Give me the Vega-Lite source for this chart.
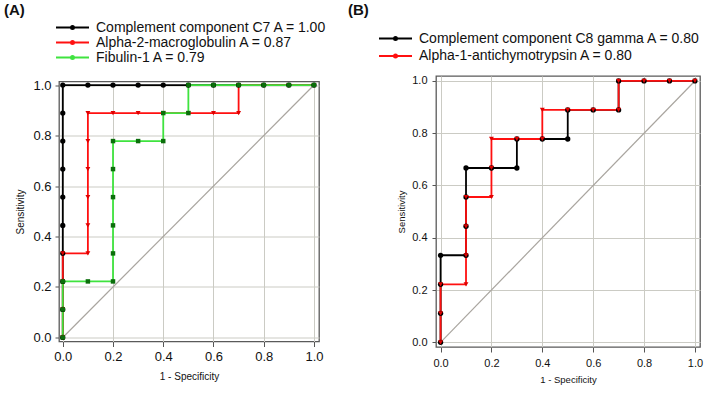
{
  "$schema": "https://vega.github.io/schema/vega-lite/v6.json",
  "autosize": {"type": "none"},
  "padding": {"left": 59, "top": 76, "right": 661, "bottom": 327},
  "background": "white",
  "config": {
    "font": "Liberation Sans",
    "view": {"stroke": "#5a5a5a", "strokeWidth": 1.3},
    "axis": {"domain": false, "grid": true, "gridColor": "#cbcbc4", "gridWidth": 1, "tickColor": "#555555", "labelColor": "#111111", "titleColor": "#111111", "titleFontWeight": "normal", "labelFont": "Liberation Sans", "titleFont": "Liberation Sans", "labelFlush": false, "format": ".1f", "values": [0, 0.2, 0.4, 0.6, 0.8, 1]},
    "legend": {"labelFont": "Liberation Sans", "labelColor": "#111111", "labelLimit": 400, "title": null, "orient": "none", "symbolType": "M-4.125,0H4.125M-0.4,0A0.4,0.4,0,1,1,0.4,0A0.4,0.4,0,1,1,-0.4,0", "symbolSize": 64, "symbolStrokeWidth": 1.8, "symbolFillColor": "transparent", "labelFontSize": 14, "labelOffset": 16.5}
  },
  "datasets": {
    "diag": [{"x": 0, "y": 0}, {"x": 1, "y": 1}],
    "rocA": [
      {"series": "Complement component C7 A = 1.00", "i": 1, "x": 0, "y": 0},
      {"series": "Complement component C7 A = 1.00", "i": 2, "x": 0, "y": 0.111},
      {"series": "Complement component C7 A = 1.00", "i": 3, "x": 0, "y": 0.222},
      {"series": "Complement component C7 A = 1.00", "i": 4, "x": 0, "y": 0.333},
      {"series": "Complement component C7 A = 1.00", "i": 5, "x": 0, "y": 0.444},
      {"series": "Complement component C7 A = 1.00", "i": 6, "x": 0, "y": 0.556},
      {"series": "Complement component C7 A = 1.00", "i": 7, "x": 0, "y": 0.667},
      {"series": "Complement component C7 A = 1.00", "i": 8, "x": 0, "y": 0.778},
      {"series": "Complement component C7 A = 1.00", "i": 9, "x": 0, "y": 0.889},
      {"series": "Complement component C7 A = 1.00", "i": 10, "x": 0, "y": 1},
      {"series": "Complement component C7 A = 1.00", "i": 11, "x": 0.1, "y": 1},
      {"series": "Complement component C7 A = 1.00", "i": 12, "x": 0.2, "y": 1},
      {"series": "Complement component C7 A = 1.00", "i": 13, "x": 0.3, "y": 1},
      {"series": "Complement component C7 A = 1.00", "i": 14, "x": 0.4, "y": 1},
      {"series": "Complement component C7 A = 1.00", "i": 15, "x": 0.5, "y": 1},
      {"series": "Complement component C7 A = 1.00", "i": 16, "x": 0.6, "y": 1},
      {"series": "Complement component C7 A = 1.00", "i": 17, "x": 0.7, "y": 1},
      {"series": "Complement component C7 A = 1.00", "i": 18, "x": 0.8, "y": 1},
      {"series": "Complement component C7 A = 1.00", "i": 19, "x": 0.9, "y": 1},
      {"series": "Complement component C7 A = 1.00", "i": 20, "x": 1, "y": 1},
      {"series": "Alpha-2-macroglobulin A = 0.87", "i": 1, "x": 0, "y": 0},
      {"series": "Alpha-2-macroglobulin A = 0.87", "i": 2, "x": 0, "y": 0.111},
      {"series": "Alpha-2-macroglobulin A = 0.87", "i": 3, "x": 0, "y": 0.222},
      {"series": "Alpha-2-macroglobulin A = 0.87", "i": 4, "x": 0, "y": 0.333},
      {"series": "Alpha-2-macroglobulin A = 0.87", "i": 5, "x": 0.1, "y": 0.333},
      {"series": "Alpha-2-macroglobulin A = 0.87", "i": 6, "x": 0.1, "y": 0.444},
      {"series": "Alpha-2-macroglobulin A = 0.87", "i": 7, "x": 0.1, "y": 0.556},
      {"series": "Alpha-2-macroglobulin A = 0.87", "i": 8, "x": 0.1, "y": 0.667},
      {"series": "Alpha-2-macroglobulin A = 0.87", "i": 9, "x": 0.1, "y": 0.778},
      {"series": "Alpha-2-macroglobulin A = 0.87", "i": 10, "x": 0.1, "y": 0.889},
      {"series": "Alpha-2-macroglobulin A = 0.87", "i": 11, "x": 0.2, "y": 0.889},
      {"series": "Alpha-2-macroglobulin A = 0.87", "i": 12, "x": 0.3, "y": 0.889},
      {"series": "Alpha-2-macroglobulin A = 0.87", "i": 13, "x": 0.4, "y": 0.889},
      {"series": "Alpha-2-macroglobulin A = 0.87", "i": 14, "x": 0.5, "y": 0.889},
      {"series": "Alpha-2-macroglobulin A = 0.87", "i": 15, "x": 0.6, "y": 0.889},
      {"series": "Alpha-2-macroglobulin A = 0.87", "i": 16, "x": 0.7, "y": 0.889},
      {"series": "Alpha-2-macroglobulin A = 0.87", "i": 17, "x": 0.7, "y": 1},
      {"series": "Alpha-2-macroglobulin A = 0.87", "i": 18, "x": 0.8, "y": 1},
      {"series": "Alpha-2-macroglobulin A = 0.87", "i": 19, "x": 0.9, "y": 1},
      {"series": "Alpha-2-macroglobulin A = 0.87", "i": 20, "x": 1, "y": 1},
      {"series": "Fibulin-1 A = 0.79", "i": 1, "x": 0, "y": 0},
      {"series": "Fibulin-1 A = 0.79", "i": 2, "x": 0, "y": 0.111},
      {"series": "Fibulin-1 A = 0.79", "i": 3, "x": 0, "y": 0.222},
      {"series": "Fibulin-1 A = 0.79", "i": 4, "x": 0.1, "y": 0.222},
      {"series": "Fibulin-1 A = 0.79", "i": 5, "x": 0.2, "y": 0.222},
      {"series": "Fibulin-1 A = 0.79", "i": 6, "x": 0.2, "y": 0.333},
      {"series": "Fibulin-1 A = 0.79", "i": 7, "x": 0.2, "y": 0.444},
      {"series": "Fibulin-1 A = 0.79", "i": 8, "x": 0.2, "y": 0.556},
      {"series": "Fibulin-1 A = 0.79", "i": 9, "x": 0.2, "y": 0.667},
      {"series": "Fibulin-1 A = 0.79", "i": 10, "x": 0.2, "y": 0.778},
      {"series": "Fibulin-1 A = 0.79", "i": 11, "x": 0.3, "y": 0.778},
      {"series": "Fibulin-1 A = 0.79", "i": 12, "x": 0.4, "y": 0.778},
      {"series": "Fibulin-1 A = 0.79", "i": 13, "x": 0.4, "y": 0.889},
      {"series": "Fibulin-1 A = 0.79", "i": 14, "x": 0.5, "y": 0.889},
      {"series": "Fibulin-1 A = 0.79", "i": 15, "x": 0.5, "y": 1},
      {"series": "Fibulin-1 A = 0.79", "i": 16, "x": 0.6, "y": 1},
      {"series": "Fibulin-1 A = 0.79", "i": 17, "x": 0.7, "y": 1},
      {"series": "Fibulin-1 A = 0.79", "i": 18, "x": 0.8, "y": 1},
      {"series": "Fibulin-1 A = 0.79", "i": 19, "x": 0.9, "y": 1},
      {"series": "Fibulin-1 A = 0.79", "i": 20, "x": 1, "y": 1}
    ],
    "rocB": [
      {"series": "Complement component C8 gamma A = 0.80", "i": 1, "x": 0, "y": 0},
      {"series": "Complement component C8 gamma A = 0.80", "i": 2, "x": 0, "y": 0.111},
      {"series": "Complement component C8 gamma A = 0.80", "i": 3, "x": 0, "y": 0.222},
      {"series": "Complement component C8 gamma A = 0.80", "i": 4, "x": 0, "y": 0.333},
      {"series": "Complement component C8 gamma A = 0.80", "i": 5, "x": 0.1, "y": 0.333},
      {"series": "Complement component C8 gamma A = 0.80", "i": 6, "x": 0.1, "y": 0.444},
      {"series": "Complement component C8 gamma A = 0.80", "i": 7, "x": 0.1, "y": 0.556},
      {"series": "Complement component C8 gamma A = 0.80", "i": 8, "x": 0.1, "y": 0.667},
      {"series": "Complement component C8 gamma A = 0.80", "i": 9, "x": 0.2, "y": 0.667},
      {"series": "Complement component C8 gamma A = 0.80", "i": 10, "x": 0.3, "y": 0.667},
      {"series": "Complement component C8 gamma A = 0.80", "i": 11, "x": 0.3, "y": 0.778},
      {"series": "Complement component C8 gamma A = 0.80", "i": 12, "x": 0.4, "y": 0.778},
      {"series": "Complement component C8 gamma A = 0.80", "i": 13, "x": 0.5, "y": 0.778},
      {"series": "Complement component C8 gamma A = 0.80", "i": 14, "x": 0.5, "y": 0.889},
      {"series": "Complement component C8 gamma A = 0.80", "i": 15, "x": 0.6, "y": 0.889},
      {"series": "Complement component C8 gamma A = 0.80", "i": 16, "x": 0.7, "y": 0.889},
      {"series": "Complement component C8 gamma A = 0.80", "i": 17, "x": 0.7, "y": 1},
      {"series": "Complement component C8 gamma A = 0.80", "i": 18, "x": 0.8, "y": 1},
      {"series": "Complement component C8 gamma A = 0.80", "i": 19, "x": 0.9, "y": 1},
      {"series": "Complement component C8 gamma A = 0.80", "i": 20, "x": 1, "y": 1},
      {"series": "Alpha-1-antichymotrypsin A = 0.80", "i": 1, "x": 0, "y": 0},
      {"series": "Alpha-1-antichymotrypsin A = 0.80", "i": 2, "x": 0, "y": 0.111},
      {"series": "Alpha-1-antichymotrypsin A = 0.80", "i": 3, "x": 0, "y": 0.222},
      {"series": "Alpha-1-antichymotrypsin A = 0.80", "i": 4, "x": 0.1, "y": 0.222},
      {"series": "Alpha-1-antichymotrypsin A = 0.80", "i": 5, "x": 0.1, "y": 0.333},
      {"series": "Alpha-1-antichymotrypsin A = 0.80", "i": 6, "x": 0.1, "y": 0.444},
      {"series": "Alpha-1-antichymotrypsin A = 0.80", "i": 7, "x": 0.1, "y": 0.556},
      {"series": "Alpha-1-antichymotrypsin A = 0.80", "i": 8, "x": 0.2, "y": 0.556},
      {"series": "Alpha-1-antichymotrypsin A = 0.80", "i": 9, "x": 0.2, "y": 0.667},
      {"series": "Alpha-1-antichymotrypsin A = 0.80", "i": 10, "x": 0.2, "y": 0.778},
      {"series": "Alpha-1-antichymotrypsin A = 0.80", "i": 11, "x": 0.3, "y": 0.778},
      {"series": "Alpha-1-antichymotrypsin A = 0.80", "i": 12, "x": 0.4, "y": 0.778},
      {"series": "Alpha-1-antichymotrypsin A = 0.80", "i": 13, "x": 0.4, "y": 0.889},
      {"series": "Alpha-1-antichymotrypsin A = 0.80", "i": 14, "x": 0.5, "y": 0.889},
      {"series": "Alpha-1-antichymotrypsin A = 0.80", "i": 15, "x": 0.6, "y": 0.889},
      {"series": "Alpha-1-antichymotrypsin A = 0.80", "i": 16, "x": 0.7, "y": 0.889},
      {"series": "Alpha-1-antichymotrypsin A = 0.80", "i": 17, "x": 0.7, "y": 1},
      {"series": "Alpha-1-antichymotrypsin A = 0.80", "i": 18, "x": 0.8, "y": 1},
      {"series": "Alpha-1-antichymotrypsin A = 0.80", "i": 19, "x": 0.9, "y": 1},
      {"series": "Alpha-1-antichymotrypsin A = 0.80", "i": 20, "x": 1, "y": 1}
    ]
  },
  "bounds": "flush",
  "center": true,
  "spacing": 117,
  "resolve": {"scale": {"x": "independent", "y": "independent", "stroke": "independent"}, "legend": {"stroke": "independent"}},
  "hconcat": [
    {
      "width": 260,
      "height": 260,
      "title": {"text": "(A)", "anchor": "start", "frame": "group", "fontSize": 15, "fontWeight": "bold", "font": "Liberation Sans", "color": "#111111", "dx": -55, "dy": 1, "offset": 4},
      "layer": [
        {
          "data": {"name": "diag"},
          "mark": {"type": "line", "color": "#a9a59f", "strokeWidth": 1.2},
          "encoding": {
            "x": {"field": "x", "type": "quantitative", "scale": {"domain": [-0.015, 1.02], "nice": false, "zero": false},
                  "axis": {"title": "1 - Specificity", "labelFontSize": 13, "titleFontSize": 10, "tickSize": 5, "labelPadding": 4, "titlePadding": 8}},
            "y": {"field": "y", "type": "quantitative", "scale": {"domain": [-0.016, 1.014], "nice": false, "zero": false},
                  "axis": {"title": "Sensitivity", "labelFontSize": 13, "titleFontSize": 10, "tickSize": 4, "labelPadding": 4, "titlePadding": 7}}
          }
        },
        {
          "data": {"name": "rocA"},
          "mark": {"type": "line", "strokeWidth": 1.8},
          "encoding": {
            "x": {"field": "x", "type": "quantitative"},
            "y": {"field": "y", "type": "quantitative"},
            "order": {"field": "i", "type": "quantitative"},
            "stroke": {"field": "series", "type": "nominal",
              "scale": {"domain": ["Complement component C7 A = 1.00", "Alpha-2-macroglobulin A = 0.87", "Fibulin-1 A = 0.79"], "range": ["#000000", "#ff1010", "#3fe33f"]},
              "legend": {"legendX": 6.5, "legendY": -61, "rowPadding": 1}}
          }
        },
        {
          "data": {"name": "rocA"},
          "transform": [{"filter": "datum.series === 'Complement component C7 A = 1.00'"}],
          "mark": {"type": "point", "shape": "circle", "filled": true, "color": "#000000", "size": 28, "opacity": 1},
          "encoding": {"x": {"field": "x", "type": "quantitative"}, "y": {"field": "y", "type": "quantitative"}}
        },
        {
          "data": {"name": "rocA"},
          "transform": [{"filter": "datum.series === 'Alpha-2-macroglobulin A = 0.87'"}],
          "mark": {"type": "point", "shape": "triangle-down", "filled": true, "color": "#e00000", "size": 24, "opacity": 1},
          "encoding": {"x": {"field": "x", "type": "quantitative"}, "y": {"field": "y", "type": "quantitative"}}
        },
        {
          "data": {"name": "rocA"},
          "transform": [{"filter": "datum.series === 'Fibulin-1 A = 0.79'"}],
          "mark": {"type": "point", "shape": "square", "filled": true, "color": "#0b6e0b", "size": 20, "opacity": 1},
          "encoding": {"x": {"field": "x", "type": "quantitative"}, "y": {"field": "y", "type": "quantitative"}}
        }
      ]
    },
    {
      "width": 264,
      "height": 271,
      "title": {"text": "(B)", "anchor": "start", "frame": "group", "fontSize": 15, "fontWeight": "bold", "font": "Liberation Sans", "color": "#111111", "dx": -88, "dy": -10, "offset": 4},
      "layer": [
        {
          "data": {"name": "diag"},
          "mark": {"type": "line", "color": "#a9a59f", "strokeWidth": 1.2},
          "encoding": {
            "x": {"field": "x", "type": "quantitative", "scale": {"domain": [-0.018, 1.02], "nice": false, "zero": false},
                  "axis": {"title": "1 - Specificity", "labelFontSize": 11, "titleFontSize": 9.5, "tickSize": 5, "labelPadding": 5, "titlePadding": 6}},
            "y": {"field": "y", "type": "quantitative", "scale": {"domain": [-0.018, 1.019], "nice": false, "zero": false},
                  "axis": {"title": "Sensitivity", "labelFontSize": 11, "titleFontSize": 9.5, "tickSize": 4, "labelPadding": 5, "titlePadding": 5}}
          }
        },
        {
          "data": {"name": "rocB"},
          "mark": {"type": "line", "strokeWidth": 1.8},
          "encoding": {
            "x": {"field": "x", "type": "quantitative"},
            "y": {"field": "y", "type": "quantitative"},
            "order": {"field": "i", "type": "quantitative"},
            "stroke": {"field": "series", "type": "nominal",
              "scale": {"domain": ["Complement component C8 gamma A = 0.80", "Alpha-1-antichymotrypsin A = 0.80"], "range": ["#000000", "#ff1010"]},
              "legend": {"legendX": -47.5, "legendY": -44.5, "rowPadding": 3.5}}
          }
        },
        {
          "data": {"name": "rocB"},
          "transform": [{"filter": "datum.series === 'Complement component C8 gamma A = 0.80'"}],
          "mark": {"type": "point", "shape": "circle", "filled": true, "color": "#000000", "size": 28, "opacity": 1},
          "encoding": {"x": {"field": "x", "type": "quantitative"}, "y": {"field": "y", "type": "quantitative"}}
        },
        {
          "data": {"name": "rocB"},
          "transform": [{"filter": "datum.series === 'Alpha-1-antichymotrypsin A = 0.80'"}],
          "mark": {"type": "point", "shape": "triangle-down", "filled": true, "color": "#e00000", "size": 24, "opacity": 1},
          "encoding": {"x": {"field": "x", "type": "quantitative"}, "y": {"field": "y", "type": "quantitative"}}
        }
      ]
    }
  ]
}
